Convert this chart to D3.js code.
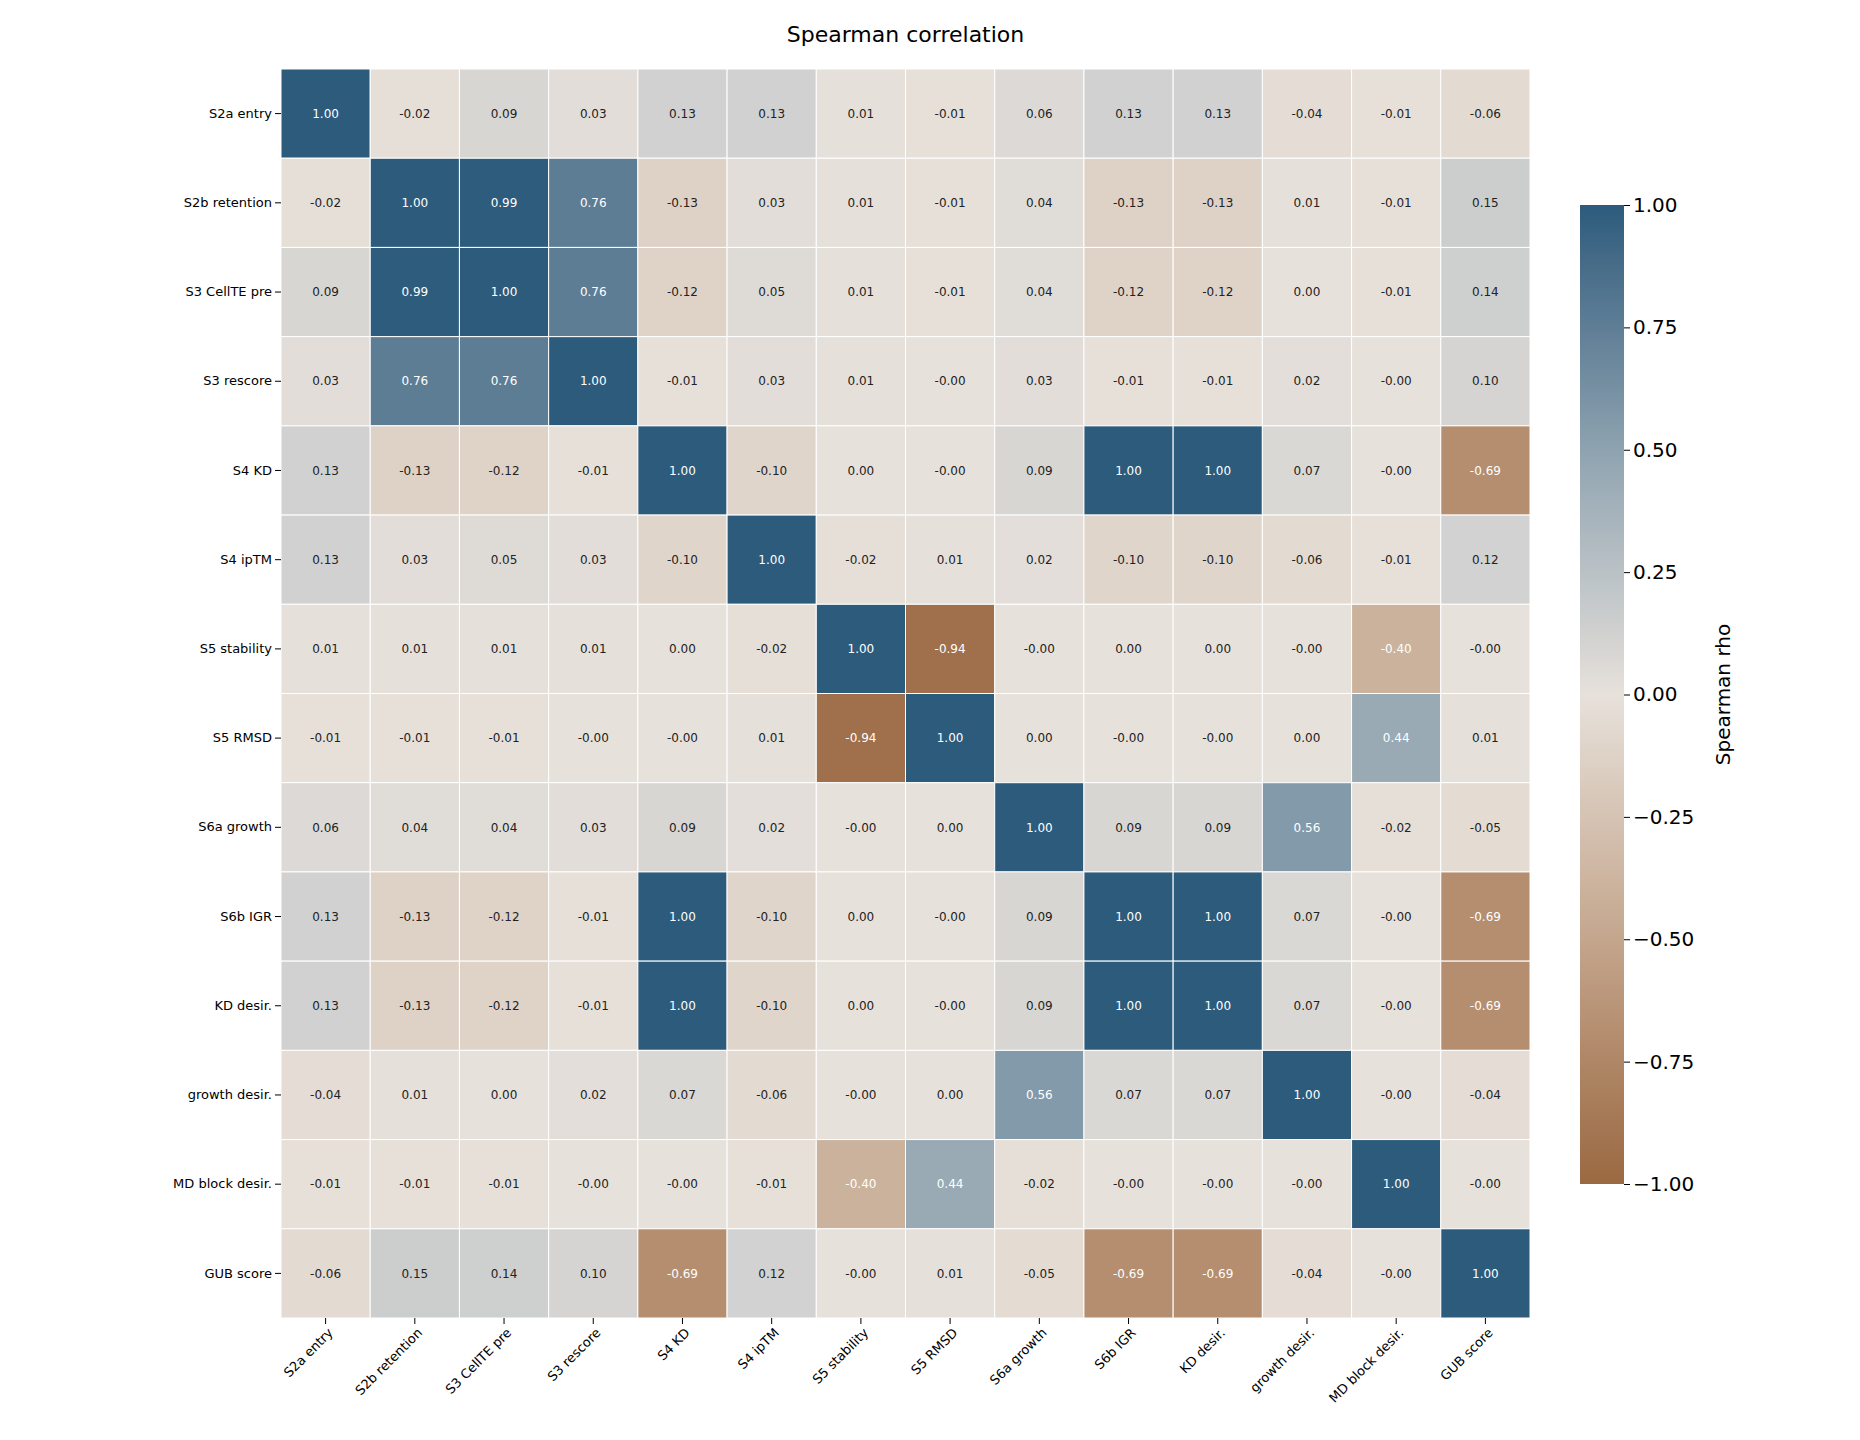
<!DOCTYPE html><html><head><meta charset="utf-8">
<script src="https://cdn.jsdelivr.net/npm/d3@7"></script>
<style>body{margin:0;background:#fff}text{font-family:"DejaVu Sans",sans-serif}</style></head><body>
<svg id="c" width="1860" height="1440"></svg>
<script>
const labels=["S2a entry","S2b retention","S3 CellTE pre","S3 rescore","S4 KD","S4 ipTM","S5 stability","S5 RMSD","S6a growth","S6b IGR","KD desir.","growth desir.","MD block desir.","GUB score"];
const r0=[1.00,-0.02,0.09,0.03,0.13,0.13,0.01,-0.01,0.06,0.13,0.13,-0.04,-0.01,-0.06];
const r1=[-0.02,1.00,0.99,0.76,-0.13,0.03,0.01,-0.01,0.04,-0.13,-0.13,0.01,-0.01,0.15];
const r2=[0.09,0.99,1.00,0.76,-0.12,0.05,0.01,-0.01,0.04,-0.12,-0.12,0.00,-0.01,0.14];
const r3=[0.03,0.76,0.76,1.00,-0.01,0.03,0.01,-0.001,0.03,-0.01,-0.01,0.02,-0.001,0.10];
const r4=[0.13,-0.13,-0.12,-0.01,1.00,-0.10,0.00,-0.001,0.09,1.00,1.00,0.07,-0.001,-0.69];
const r5=[0.13,0.03,0.05,0.03,-0.10,1.00,-0.02,0.01,0.02,-0.10,-0.10,-0.06,-0.01,0.12];
const r6=[0.01,0.01,0.01,0.01,0.00,-0.02,1.00,-0.94,-0.001,0.00,0.00,-0.001,-0.40,-0.001];
const r7=[-0.01,-0.01,-0.01,-0.001,-0.001,0.01,-0.94,1.00,0.00,-0.001,-0.001,0.00,0.44,0.01];
const r8=[0.06,0.04,0.04,0.03,0.09,0.02,-0.001,0.00,1.00,0.09,0.09,0.56,-0.02,-0.05];
const r9=[0.13,-0.13,-0.12,-0.01,1.00,-0.10,0.00,-0.001,0.09,1.00,1.00,0.07,-0.001,-0.69];
const r10=[0.13,-0.13,-0.12,-0.01,1.00,-0.10,0.00,-0.001,0.09,1.00,1.00,0.07,-0.001,-0.69];
const r11=[-0.04,0.01,0.00,0.02,0.07,-0.06,-0.001,0.00,0.56,0.07,0.07,1.00,-0.001,-0.04];
const r12=[-0.01,-0.01,-0.01,-0.001,-0.001,-0.01,-0.40,0.44,-0.02,-0.001,-0.001,-0.001,1.00,-0.001];
const r13=[-0.06,0.15,0.14,0.10,-0.69,0.12,-0.001,0.01,-0.05,-0.69,-0.69,-0.04,-0.001,1.00];
const rows=[r0,r1,r2,r3,r4,r5,r6,r7,r8,r9,r10,r11,r12,r13];
const cbTicks=[-1,-0.75,-0.5,-0.25,0,0.25,0.5,0.75,1];

const svg=d3.select("#c");
const L=281,R=1530,T=69,B=1318;
const x=d3.scaleBand().domain(labels).range([L,R]);
const y=d3.scaleBand().domain(labels).range([T,B]);
const color=d3.scaleLinear().domain([-1,-0.5,0,0.5,1]).range(["#9a6942","#c4a68d","#e7e1db","#8ea3b0","#2c5b7c"]).interpolate(d3.interpolateLab).clamp(true);
const cells=[];rows.forEach((r,i)=>r.forEach((v,j)=>cells.push({i,j,v})));
const fmt=v=>(Math.abs(v)<0.005?(v<0?"-0.00":"0.00"):v.toFixed(2));
svg.append("g").selectAll("rect").data(cells).join("rect")
 .attr("x",d=>x(labels[d.j])).attr("y",d=>y(labels[d.i])).attr("width",x.bandwidth()).attr("height",y.bandwidth())
 .attr("fill",d=>color(d.v)).attr("stroke","#fff").attr("stroke-width",1);
svg.append("g").selectAll("text").data(cells).join("text")
 .attr("x",d=>x(labels[d.j])+x.bandwidth()/2).attr("y",d=>y(labels[d.i])+y.bandwidth()/2).attr("dy","0.35em")
 .attr("text-anchor","middle").attr("font-size",12)
 .attr("fill",d=>Math.abs(d.v)>0.3?"#fff":"#222").text(d=>fmt(d.v));
const ya=svg.append("g").attr("transform",`translate(${L},0)`).call(d3.axisLeft(y).tickSize(6));
ya.select(".domain").remove();ya.selectAll("text").attr("font-size",13).attr("fill","#000").attr("font-family","DejaVu Sans");
const xa=svg.append("g").attr("transform",`translate(0,${B})`).call(d3.axisBottom(x).tickSize(6));
xa.select(".domain").remove();
xa.selectAll("text").attr("font-size",13).attr("fill","#000").attr("font-family","DejaVu Sans")
 .attr("text-anchor","end").attr("transform","rotate(-45)").attr("dx","-0.4em").attr("dy","0.6em");
svg.append("text").attr("x",(L+R)/2).attr("y",42).attr("text-anchor","middle").attr("font-size",22).text("Spearman correlation");
const cx=1580,cw=44,ct=205,cb=1184;
const defs=svg.append("defs");const g=defs.append("linearGradient").attr("id","g").attr("x1",0).attr("x2",0).attr("y1",1).attr("y2",0);
d3.range(0,1.0001,0.05).forEach(t=>g.append("stop").attr("offset",t).attr("stop-color",color(-1+2*t)));
svg.append("rect").attr("x",cx).attr("y",ct).attr("width",cw).attr("height",cb-ct).attr("fill","url(#g)");
const cs=d3.scaleLinear().domain([-1,1]).range([cb,ct]);
const ca=svg.append("g").attr("transform",`translate(${cx+cw},0)`).call(d3.axisRight(cs).tickValues(cbTicks).tickSize(6).tickFormat(d=>d3.format(".2f")(d).replace("-","\u2212")));
ca.select(".domain").remove();ca.selectAll("text").attr("font-size",20).attr("fill","#000").attr("font-family","DejaVu Sans");
svg.append("text").attr("transform",`translate(1730,${(ct+cb)/2}) rotate(-90)`).attr("text-anchor","middle").attr("font-size",20).text("Spearman rho");
</script></body></html>
